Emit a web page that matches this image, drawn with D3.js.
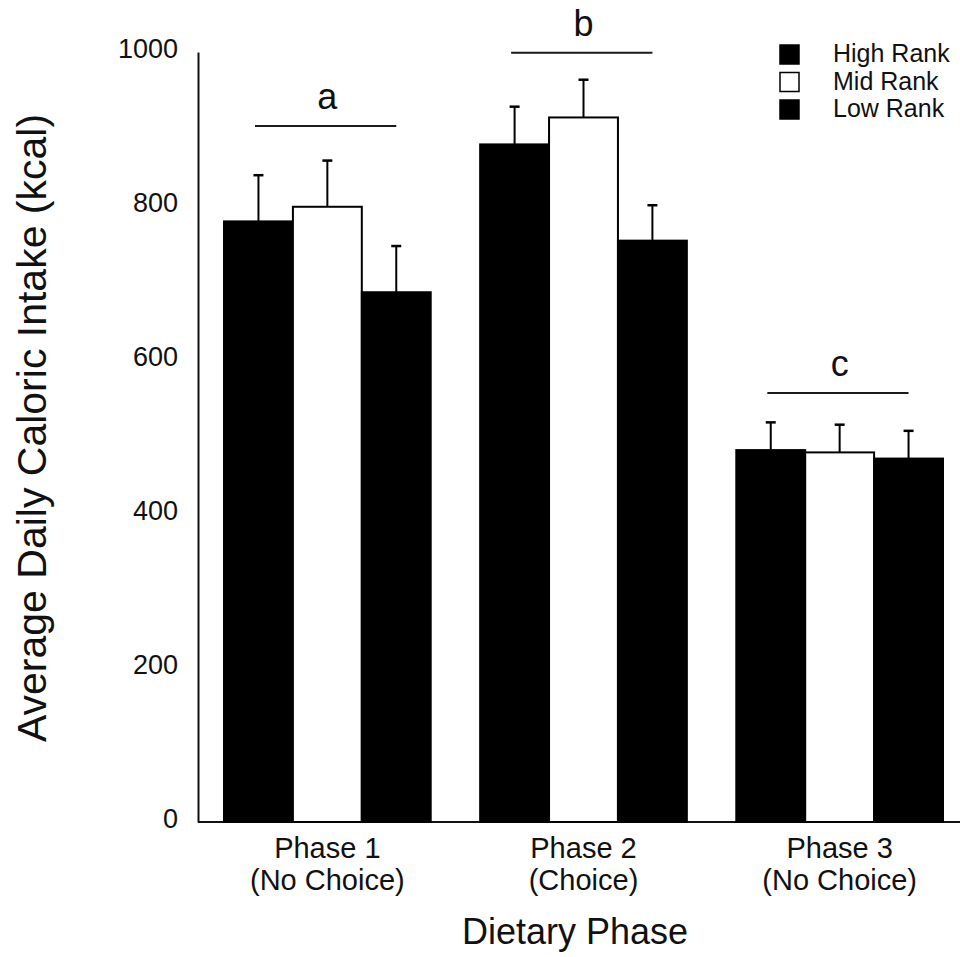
<!DOCTYPE html>
<html>
<head>
<meta charset="utf-8">
<script src="https://cdn.jsdelivr.net/npm/d3@7"></script>
<style>
  html, body { margin: 0; padding: 0; background: #fff; }
  svg { display: block; font-family: "Liberation Sans", Arial, sans-serif; }
</style>
</head>
<body>
<svg id="chart" width="960" height="957"></svg>
<script>
// Average daily caloric intake by dietary phase and social rank
const phases = ["Phase 1|(No Choice)", "Phase 2|(Choice)", "Phase 3|(No Choice)"];
const seriesNames = ["High Rank", "Mid Rank", "Low Rank"];
const highRank = [780, 880, 483];
const midRank = [799, 915, 480];
const lowRank = [688, 755, 472];
const highErr = [60, 49, 36];
const midErr = [60, 49, 36];
const lowErr = [60, 46, 36];
const yTicks = [0, 200, 400, 600, 800, 1000];
const sigLabels = ["a", "b", "c"];
const sigLevels = [904, 999, 557];

const fills = ["#000", "#fff", "#000"];
const values = [highRank, midRank, lowRank];
const errors = [highErr, midErr, lowErr];

const rows = phases.map((p, i) => ({
  phase: p,
  bars: seriesNames.map((s, k) => ({ series: s, k, value: values[k][i], err: errors[k][i] }))
}));

const svg = d3.select("#chart");
const ink = "#111";

const y = d3.scaleLinear().domain([0, 1000]).range([822, 52]);
const x0 = d3.scaleBand().domain(phases).range([224, 943]).paddingInner(0.193).paddingOuter(0);
const x1 = d3.scaleBand().domain(seriesNames).range([0, x0.bandwidth()]).padding(0);

// y axis
const yAxis = svg.append("g")
  .attr("transform", "translate(198,0)")
  .call(d3.axisLeft(y).tickValues(yTicks).tickFormat(d3.format("d"))
    .tickSize(0).tickSizeOuter(0).tickPadding(20));
yAxis.select(".domain").attr("stroke", ink).attr("stroke-width", 2);
yAxis.selectAll("text")
  .attr("font-size", 27)
  .attr("fill", ink)
  .attr("font-family", "Liberation Sans, Arial, sans-serif")
  .attr("dy", "0.32em")
  .attr("transform", "translate(0,-3)");

// x baseline
svg.append("line")
  .attr("x1", 198).attr("x2", 960)
  .attr("y1", y(0)).attr("y2", y(0))
  .attr("stroke", ink).attr("stroke-width", 2);

// bars
const groups = svg.append("g").selectAll("g")
  .data(rows).join("g")
  .attr("transform", d => `translate(${x0(d.phase)},0)`);

groups.selectAll("rect")
  .data(d => d.bars).join("rect")
  .attr("x", b => x1(b.series))
  .attr("y", b => y(b.value))
  .attr("width", x1.bandwidth())
  .attr("height", b => y(0) - y(b.value))
  .attr("fill", b => fills[b.k])
  .attr("stroke", "#000")
  .attr("stroke-width", 2);

// error bars (upper only)
const eb = groups.selectAll("g.err")
  .data(d => d.bars).join("g").attr("class", "err");
eb.append("line")
  .attr("x1", b => x1(b.series) + x1.bandwidth() / 2)
  .attr("x2", b => x1(b.series) + x1.bandwidth() / 2)
  .attr("y1", b => y(b.value))
  .attr("y2", b => y(b.value + b.err))
  .attr("stroke", "#000").attr("stroke-width", 2);
eb.append("line")
  .attr("x1", b => x1(b.series) + x1.bandwidth() / 2 - 5)
  .attr("x2", b => x1(b.series) + x1.bandwidth() / 2 + 5)
  .attr("y1", b => y(b.value + b.err))
  .attr("y2", b => y(b.value + b.err))
  .attr("stroke", "#000").attr("stroke-width", 2.5);

// significance groupings
const sig = svg.append("g").selectAll("g")
  .data(phases).join("g")
  .attr("transform", p => `translate(${x0(p)},0)`);
sig.append("line")
  .attr("x1", x1.bandwidth() * 0.45)
  .attr("x2", x1.bandwidth() * 2.5)
  .attr("y1", (p, i) => y(sigLevels[i]))
  .attr("y2", (p, i) => y(sigLevels[i]))
  .attr("stroke", "#1a1a1a").attr("stroke-width", 2);
sig.append("text")
  .attr("x", x0.bandwidth() / 2)
  .attr("y", (p, i) => y(sigLevels[i]) - 17)
  .attr("text-anchor", "middle")
  .attr("font-size", 36)
  .attr("fill", ink)
  .text((p, i) => sigLabels[i]);

// phase labels
const pl = svg.append("g").selectAll("text")
  .data(phases).join("text")
  .attr("text-anchor", "middle")
  .attr("font-size", 29)
  .attr("fill", ink);
pl.selectAll("tspan")
  .data(p => p.split("|").map(t => ({ t, p })))
  .join("tspan")
  .attr("x", d => x0(d.p) + x0.bandwidth() / 2)
  .attr("y", (d, j) => 858 + j * 32)
  .text(d => d.t);

// axis titles
svg.append("text")
  .attr("x", 575).attr("y", 944)
  .attr("text-anchor", "middle")
  .attr("font-size", 36)
  .attr("fill", ink)
  .text("Dietary Phase");

svg.append("text")
  .attr("transform", "translate(46,428) rotate(-90)")
  .attr("text-anchor", "middle")
  .attr("font-size", 41)
  .attr("fill", ink)
  .text("Average Daily Caloric Intake (kcal)");

// legend
const legend = svg.append("g").selectAll("g")
  .data(seriesNames).join("g")
  .attr("transform", (s, k) => `translate(780,${45 + k * 27.5})`);
legend.append("rect")
  .attr("width", 19).attr("height", 19)
  .attr("fill", (s, k) => fills[k])
  .attr("stroke", "#000").attr("stroke-width", 1.5);
legend.append("text")
  .attr("x", 53).attr("y", 17)
  .attr("font-size", 25)
  .attr("fill", ink)
  .text(s => s);
</script>
</body>
</html>
